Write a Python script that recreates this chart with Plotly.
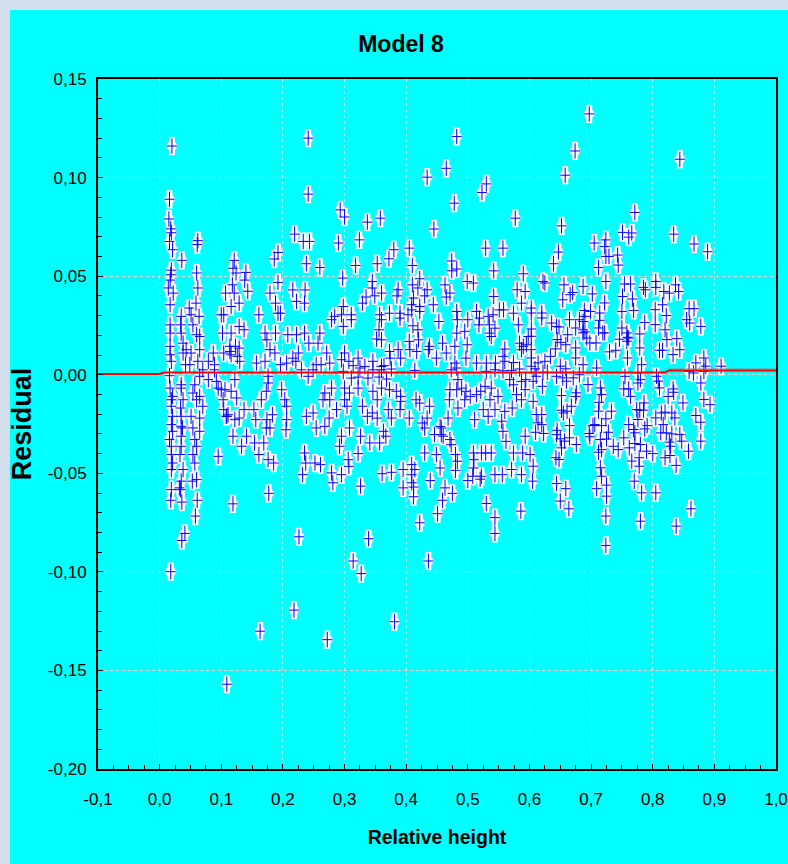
import plotly.graph_objects as go

# ---- residuals by relative height, grouped by region of the plot ----
upper_left = [
    (0.020, 0.116), (0.241, 0.120), (0.241, 0.0916), (0.016, 0.089), (0.015, 0.079), (0.018, 0.074),
    (0.019, 0.072), (0.016, 0.0676), (0.021, 0.0634), (0.062, 0.068), (0.061, 0.066), (0.036, 0.058),
    (0.293, 0.0836), (0.300, 0.080), (0.219, 0.0713), (0.233, 0.0676), (0.243, 0.0676), (0.290, 0.0668),
    (0.192, 0.062), (0.186, 0.0587), (0.238, 0.0563), (0.260, 0.0544), (0.297, 0.049), (0.121, 0.058),
    (0.119, 0.054), (0.124, 0.0516), (0.140, 0.0519), (0.138, 0.048), (0.192, 0.0468), (0.019, 0.053),
    (0.018, 0.0507), (0.017, 0.048), (0.060, 0.0516), (0.014, 0.044), (0.022, 0.0414), (0.062, 0.044),
    (0.118, 0.0456), (0.107, 0.0414), (0.121, 0.0414), (0.143, 0.0423), (0.179, 0.0414), (0.216, 0.043),
    (0.236, 0.043),
]

core_left = [
    (0.017, 0.0355), (0.017, 0.0253), (0.017, 0.0211), (0.017, 0.0144), (0.017, 0.0101), (0.019, 0.0068),
    (0.016, -0.0005), (0.017, -0.0068), (0.021, -0.0110), (0.019, -0.0127), (0.019, -0.0160), (0.021, -0.0211),
    (0.019, -0.0253), (0.021, -0.0287), (0.016, -0.0329), (0.019, -0.0363), (0.019, -0.0405), (0.021, -0.0448),
    (0.019, -0.0481), (0.019, -0.0583),
    (0.035, 0.0296), (0.034, 0.0253), (0.035, 0.0211), (0.038, 0.0160), (0.038, 0.0110), (0.042, 0.0051),
    (0.035, -0.0051), (0.035, -0.0068), (0.038, -0.0127), (0.034, -0.0169), (0.035, -0.0211), (0.035, -0.0262),
    (0.037, -0.0270), (0.035, -0.0312), (0.035, -0.0363), (0.033, -0.0405), (0.038, -0.0481), (0.035, -0.0540),
    (0.034, -0.0583),
    (0.048, 0.0338), (0.059, 0.0363), (0.064, 0.0296), (0.051, 0.0304), (0.054, 0.0253), (0.060, 0.0203),
    (0.065, 0.0194), (0.043, 0.0127), (0.051, 0.0110), (0.065, 0.0127), (0.062, 0.0068), (0.049, 0.0051),
    (0.070, 0.0025), (0.065, -0.0008), (0.079, -0.0025), (0.057, -0.0051), (0.054, -0.0093), (0.065, -0.0110),
    (0.060, -0.0127), (0.070, -0.0160), (0.051, -0.0211), (0.065, -0.0220), (0.054, -0.0270), (0.065, -0.0287),
    (0.057, -0.0329), (0.060, -0.0363), (0.054, -0.0405), (0.057, -0.0448), (0.060, -0.0532), (0.053, -0.0540),
    (0.087, 0.0110), (0.079, 0.0068), (0.089, 0.0051), (0.092, -0.0034), (0.095, -0.0068), (0.100, -0.0076),
    (0.103, -0.0127), (0.104, -0.0177), (0.108, -0.0211), (0.095, -0.0414), (0.100, 0.0304), (0.104, 0.0304),
    (0.102, 0.0211), (0.089, 0.0025), (0.114, 0.0118),
    (0.116, 0.0346), (0.129, 0.0363), (0.129, 0.0245), (0.116, 0.0211), (0.137, 0.0228), (0.114, 0.0144),
    (0.123, 0.0144), (0.129, 0.0135), (0.104, 0.0110), (0.116, 0.0101), (0.126, 0.0093), (0.130, 0.0068),
    (0.122, -0.0025), (0.106, -0.0076), (0.116, -0.0084), (0.125, -0.0118), (0.137, -0.0177), (0.111, -0.0203),
    (0.129, -0.0220), (0.122, -0.0228), (0.119, -0.0312), (0.141, -0.0312), (0.133, -0.0363), (0.109, -0.0211),
]

core_left_mid = [
    (0.161, 0.0304), (0.188, 0.0363), (0.192, 0.0312), (0.196, 0.0312), (0.171, 0.0211), (0.188, 0.0211),
    (0.174, 0.0177), (0.179, 0.0127), (0.187, 0.0110), (0.171, 0.0068), (0.157, 0.0059), (0.196, 0.0051),
    (0.176, -0.0008), (0.176, -0.0042), (0.173, -0.0084), (0.165, -0.0127), (0.198, -0.0076), (0.183, -0.0203),
    (0.174, -0.0228), (0.173, -0.0270), (0.179, -0.0270), (0.153, -0.0177), (0.156, -0.0228), (0.154, -0.0346),
    (0.169, -0.0346), (0.161, -0.0405), (0.176, -0.0431), (0.185, -0.0448), (0.203, -0.0127), (0.206, -0.0160),
    (0.206, -0.0228), (0.205, -0.0279),
    (0.222, 0.0372), (0.235, 0.0363), (0.208, 0.0203), (0.222, 0.0203), (0.235, 0.0211), (0.216, 0.0084),
    (0.225, 0.0110), (0.242, 0.0160), (0.257, 0.0160), (0.260, 0.0211), (0.206, 0.0059), (0.221, 0.0068),
    (0.230, 0.0025), (0.241, -0.0008), (0.249, 0.0025), (0.238, -0.0211), (0.249, -0.0194), (0.254, -0.0270),
    (0.235, -0.0397), (0.237, -0.0448), (0.252, -0.0448), (0.261, -0.0456), (0.232, -0.0507),
    (0.279, 0.0279), (0.295, 0.0304), (0.298, 0.0346), (0.298, 0.0245), (0.284, 0.0296), (0.271, 0.0110),
    (0.276, 0.0059), (0.295, 0.0076), (0.298, 0.0017), (0.279, -0.0068), (0.268, -0.0093), (0.265, -0.0127),
    (0.276, -0.0127), (0.287, -0.0177), (0.275, -0.0220), (0.268, -0.0262), (0.295, -0.0312), (0.292, -0.0363),
    (0.279, -0.0498), (0.295, -0.0507), (0.262, 0.0051), (0.254, 0.0051),
]

lower_left = [
    (0.018, -0.0637), (0.032, -0.0574), (0.036, -0.0646), (0.061, -0.0637), (0.058, -0.0717), (0.041, -0.0805),
    (0.036, -0.0841), (0.018, -0.0999), (0.119, -0.0655), (0.177, -0.0602), (0.226, -0.0822), (0.218, -0.1194),
    (0.163, -0.1301), (0.272, -0.1344), (0.109, -0.157), (0.281, -0.0548),
]

upper_mid = [
    (0.482, 0.1208), (0.465, 0.1047), (0.434, 0.1002), (0.530, 0.0968), (0.523, 0.0924), (0.478, 0.087),
    (0.337, 0.0774), (0.358, 0.0794), (0.577, 0.0794), (0.445, 0.0739), (0.324, 0.0684), (0.405, 0.0642),
    (0.380, 0.0634), (0.529, 0.0642), (0.557, 0.0642), (0.372, 0.0588), (0.318, 0.0554), (0.353, 0.0563),
    (0.410, 0.0554), (0.474, 0.0577), (0.474, 0.0527), (0.482, 0.0536), (0.542, 0.0527), (0.590, 0.0512),
    (0.345, 0.0473), (0.345, 0.044), (0.422, 0.0487), (0.410, 0.0456), (0.419, 0.044), (0.434, 0.0431),
    (0.463, 0.0456), (0.499, 0.0473), (0.509, 0.0465), (0.580, 0.0431), (0.593, 0.0422), (0.360, 0.0414),
    (0.387, 0.0431), (0.385, 0.040), (0.335, 0.0394), (0.349, 0.040), (0.430, 0.040), (0.412, 0.0389),
    (0.471, 0.0414), (0.465, 0.0394), (0.542, 0.0397),
]

core_mid = [
    (0.311, 0.0304), (0.311, 0.0279), (0.329, 0.0363), (0.357, 0.0304), (0.360, 0.0279), (0.373, 0.0312),
    (0.390, 0.0312), (0.390, 0.0287), (0.403, 0.0304), (0.409, 0.0355), (0.409, 0.0329), (0.422, 0.0346),
    (0.422, 0.0321), (0.444, 0.0355), (0.453, 0.0270), (0.482, 0.0321), (0.483, 0.0279), (0.500, 0.0279),
    (0.514, 0.0321), (0.519, 0.0287), (0.518, 0.0253), (0.533, 0.0296), (0.541, 0.0304), (0.551, 0.0329),
    (0.558, 0.0329), (0.574, 0.0312), (0.587, 0.0363), (0.582, 0.0253),
    (0.356, 0.0228), (0.352, 0.0181), (0.360, 0.0177), (0.411, 0.0248), (0.419, 0.0228), (0.420, 0.0177),
    (0.405, 0.0169), (0.438, 0.0144), (0.459, 0.0160), (0.479, 0.0144), (0.482, 0.0211), (0.495, 0.0220),
    (0.499, 0.0152), (0.535, 0.0253), (0.535, 0.0211), (0.538, 0.0194), (0.544, 0.0236), (0.560, 0.0130),
    (0.584, 0.0160), (0.590, 0.0144), (0.598, 0.0194),
    (0.300, 0.0110), (0.307, 0.0068), (0.322, 0.0084), (0.346, 0.0068), (0.360, 0.0042), (0.373, 0.0118),
    (0.374, 0.0084), (0.387, 0.0127), (0.391, 0.0084), (0.406, 0.0127), (0.417, 0.0118), (0.436, 0.0127),
    (0.449, 0.0084), (0.465, 0.0110), (0.479, 0.0059), (0.497, 0.0084), (0.514, 0.0059), (0.530, 0.0059),
    (0.545, 0.0059), (0.557, 0.0093), (0.560, 0.0068), (0.574, 0.0062), (0.587, 0.0127), (0.595, 0.0152),
    (0.314, 0.0046), (0.325, 0.0034), (0.333, 0.0042), (0.346, 0.0025), (0.360, 0.0025), (0.364, 0.0046),
    (0.376, 0.0029), (0.414, 0.0022), (0.473, 0.0025), (0.482, 0.0034), (0.530, 0.0017), (0.544, 0.0025),
    (0.557, 0.0020), (0.571, 0.0022), (0.584, 0.0029),
    (0.311, -0.0017), (0.322, -0.0012), (0.338, -0.0017), (0.356, -0.0012), (0.368, -0.0022), (0.300, -0.0068),
    (0.308, -0.0093), (0.322, -0.0068), (0.346, -0.0084), (0.353, -0.0127), (0.360, -0.0068), (0.373, -0.0076),
    (0.384, -0.0084), (0.391, -0.0110), (0.484, -0.0025), (0.471, -0.0076), (0.470, -0.0127), (0.482, -0.0076),
    (0.490, -0.0068), (0.497, -0.0084), (0.504, -0.0110), (0.514, -0.0101), (0.521, -0.0084), (0.528, -0.0059),
    (0.538, -0.0068), (0.549, -0.0110), (0.568, -0.0025), (0.574, -0.0051), (0.587, -0.0034), (0.594, -0.0025),
    (0.579, -0.0101), (0.593, -0.0076),
    (0.300, -0.0127), (0.304, -0.0160), (0.329, -0.0160), (0.337, -0.0211), (0.345, -0.0194), (0.353, -0.0220),
    (0.371, -0.0177), (0.376, -0.0220), (0.390, -0.0177), (0.391, -0.0135), (0.405, -0.0220), (0.416, -0.0127),
    (0.422, -0.0144), (0.434, -0.0220), (0.438, -0.0160), (0.426, -0.0245), (0.430, -0.0270), (0.455, -0.0262),
    (0.468, -0.0220), (0.484, -0.0169), (0.495, -0.0127), (0.511, -0.0228), (0.525, -0.0177), (0.536, -0.0127),
    (0.533, -0.0211), (0.544, -0.0177), (0.560, -0.0186), (0.555, -0.0236), (0.557, -0.0287), (0.572, -0.0169),
    (0.587, -0.0127),
    (0.308, -0.0270), (0.326, -0.0312), (0.341, -0.0346), (0.357, -0.0346), (0.363, -0.0287), (0.367, -0.0312),
    (0.446, -0.0304), (0.457, -0.0304), (0.457, -0.0270), (0.460, -0.0312), (0.471, -0.0329), (0.473, -0.0355),
    (0.430, -0.0397), (0.449, -0.0405), (0.480, -0.0405), (0.509, -0.0397), (0.510, -0.0431), (0.522, -0.0397),
    (0.529, -0.0397), (0.538, -0.0397), (0.562, -0.0338), (0.574, -0.0397), (0.589, -0.0397), (0.593, -0.0312),
    (0.306, -0.0431), (0.307, -0.0465), (0.322, -0.0400), (0.361, -0.0502), (0.376, -0.0495), (0.395, -0.0481),
    (0.409, -0.0456), (0.414, -0.0481), (0.409, -0.0507), (0.455, -0.0473), (0.480, -0.0485), (0.483, -0.0439),
    (0.509, -0.0473), (0.508, -0.0515), (0.522, -0.0515), (0.544, -0.0507), (0.556, -0.0507), (0.571, -0.0481),
    (0.587, -0.0507),
]

lower_mid = [
    (0.326, -0.0565), (0.395, -0.0574), (0.409, -0.0548), (0.412, -0.057), (0.412, -0.0619), (0.439, -0.0537),
    (0.463, -0.0574), (0.475, -0.0602), (0.459, -0.0637), (0.451, -0.0705), (0.422, -0.0751), (0.339, -0.0832),
    (0.314, -0.0945), (0.327, -0.1009), (0.436, -0.0945), (0.381, -0.1253), (0.530, -0.0653), (0.544, -0.0725),
    (0.544, -0.0805), (0.586, -0.0692), (0.500, -0.0537), (0.520, -0.053),
]

upper_right = [
    (0.697, 0.1323), (0.674, 0.1135), (0.844, 0.1093), (0.658, 0.1012), (0.771, 0.0823), (0.652, 0.0755),
    (0.834, 0.0713), (0.751, 0.0722), (0.766, 0.0719), (0.761, 0.0698), (0.705, 0.0668), (0.724, 0.0684),
    (0.722, 0.065), (0.647, 0.0622), (0.724, 0.060), (0.729, 0.060), (0.743, 0.0607), (0.744, 0.0556),
    (0.639, 0.0563), (0.712, 0.0544), (0.867, 0.0663), (0.889, 0.0624),
    (0.622, 0.0473), (0.625, 0.0465), (0.656, 0.0456), (0.687, 0.0448), (0.724, 0.0473), (0.754, 0.046),
    (0.764, 0.046), (0.785, 0.0443), (0.788, 0.0431), (0.805, 0.0473), (0.805, 0.0443), (0.837, 0.0456),
    (0.842, 0.0422), (0.818, 0.0422), (0.827, 0.0414), (0.670, 0.0417), (0.666, 0.0406), (0.702, 0.041),
    (0.654, 0.038), (0.751, 0.0397), (0.767, 0.0384), (0.722, 0.0364), (0.816, 0.0355), (0.859, 0.0335),
    (0.867, 0.0335), (0.804, 0.033), (0.822, 0.030),
]

core_right = [
    (0.620, 0.0313), (0.620, 0.0288), (0.689, 0.0326), (0.699, 0.0321), (0.690, 0.0296), (0.714, 0.0313),
    (0.714, 0.0276), (0.750, 0.0321), (0.769, 0.0326), (0.603, 0.0338), (0.603, 0.0313), (0.665, 0.0279),
    (0.681, 0.0279), (0.687, 0.027), (0.636, 0.0262), (0.644, 0.0245), (0.648, 0.0242), (0.787, 0.0265),
    (0.804, 0.0254), (0.855, 0.0279), (0.860, 0.0262), (0.878, 0.0245), (0.675, 0.0237), (0.687, 0.0228),
    (0.690, 0.0217), (0.712, 0.0237), (0.719, 0.0212), (0.722, 0.0212), (0.750, 0.0237), (0.758, 0.0212),
    (0.761, 0.0186), (0.779, 0.0207), (0.820, 0.0228), (0.603, 0.0232), (0.603, 0.0195), (0.645, 0.0178),
    (0.651, 0.0164), (0.662, 0.0203), (0.659, 0.0152), (0.687, 0.0212), (0.693, 0.0186), (0.698, 0.0161),
    (0.708, 0.0161), (0.746, 0.018), (0.759, 0.019), (0.758, 0.017), (0.779, 0.0136), (0.823, 0.0178),
    (0.839, 0.0183), (0.844, 0.0127), (0.811, 0.0124), (0.816, 0.0124), (0.833, 0.0102), (0.883, 0.0085),
    (0.870, 0.006), (0.730, 0.0116), (0.740, 0.0124), (0.759, 0.0085), (0.687, 0.0051), (0.675, 0.0136),
    (0.675, 0.0085), (0.642, 0.0131), (0.634, 0.0093), (0.625, 0.0068), (0.614, 0.006), (0.609, 0.003),
    (0.603, 0.0127), (0.603, 0.0085), (0.603, 0.0043), (0.650, 0.0043), (0.659, 0.003), (0.782, 0.0051),
    (0.886, 0.0043), (0.883, 0.0017), (0.911, 0.0043), (0.709, 0.0034), (0.859, 0.0017), (0.866, 0.0009),
    (0.622, 0.0012), (0.629, 0.0012), (0.681, 0.0), (0.671, -0.0016), (0.660, -0.0033), (0.654, -0.0016),
    (0.644, -0.0008), (0.776, 0.0009), (0.780, -0.0025), (0.776, -0.0042), (0.806, -0.0008), (0.809, -0.0033),
    (0.811, -0.0067), (0.755, -0.0008), (0.695, -0.005), (0.878, -0.0042), (0.621, -0.0059), (0.606, -0.0033),
    (0.611, -0.0008),
    (0.833, -0.0072), (0.834, -0.0089), (0.715, -0.0067), (0.717, -0.0101), (0.753, -0.0072), (0.761, -0.0072),
    (0.764, -0.011), (0.652, -0.0106), (0.676, -0.0092), (0.675, -0.011), (0.606, -0.0135), (0.825, -0.011),
    (0.849, -0.0143), (0.883, -0.0126), (0.893, -0.0152), (0.786, -0.0143), (0.713, -0.014), (0.712, -0.0185),
    (0.668, -0.016), (0.661, -0.0185), (0.652, -0.018), (0.655, -0.0194), (0.733, -0.0185), (0.724, -0.0224),
    (0.774, -0.0177), (0.779, -0.018), (0.785, -0.018), (0.814, -0.0194), (0.820, -0.019), (0.831, -0.0194),
    (0.836, -0.0219), (0.870, -0.0207), (0.878, -0.0241), (0.611, -0.0202), (0.620, -0.0202), (0.614, -0.0244),
    (0.620, -0.0253), (0.776, -0.0227), (0.805, -0.0219), (0.706, -0.0253), (0.717, -0.0258), (0.703, -0.0258),
    (0.761, -0.0253), (0.769, -0.0278), (0.791, -0.0258), (0.787, -0.0275), (0.817, -0.0253), (0.665, -0.0258),
    (0.610, -0.0292), (0.623, -0.0298), (0.645, -0.0282), (0.644, -0.0304), (0.697, -0.0298), (0.698, -0.0315),
    (0.728, -0.0292), (0.725, -0.0326), (0.771, -0.0295), (0.813, -0.0295), (0.822, -0.0295), (0.831, -0.030),
    (0.844, -0.0304), (0.847, -0.0337), (0.650, -0.0325), (0.657, -0.0337), (0.665, -0.032), (0.715, -0.0329),
    (0.753, -0.032), (0.827, -0.0342), (0.878, -0.0337), (0.676, -0.0354), (0.736, -0.0363), (0.744, -0.038),
    (0.762, -0.0371), (0.771, -0.0349), (0.780, -0.0354), (0.652, -0.0371), (0.829, -0.0363), (0.790, -0.0388),
    (0.800, -0.040), (0.712, -0.0393), (0.717, -0.038), (0.858, -0.0388), (0.601, -0.0405), (0.778, -0.0421),
    (0.766, -0.0438), (0.820, -0.0421), (0.828, -0.041), (0.643, -0.0421), (0.648, -0.043), (0.778, -0.0464),
    (0.838, -0.046), (0.606, -0.0464),
]

lower_right = [
    (0.715, -0.0472), (0.717, -0.0515), (0.605, -0.054), (0.644, -0.0552), (0.659, -0.0578), (0.650, -0.0641),
    (0.664, -0.068), (0.709, -0.0578), (0.725, -0.056), (0.725, -0.0616), (0.724, -0.0717), (0.724, -0.0866),
    (0.770, -0.054), (0.782, -0.0599), (0.780, -0.0743), (0.805, -0.0599), (0.862, -0.068), (0.838, -0.0768),
]

# smoothed fit through the residuals
fit_height = [-0.1, 0.0, 0.008, 0.820, 0.826, 1.0]
fit_residual = [0.0004, 0.0004, 0.0011, 0.0011, 0.0022, 0.0022]
# grey companion trace along the upper end of the fit
tail_height = [0.826, 1.0]
tail_residual = [0.0029, 0.0029]

x_tick_vals = [-0.1, 0.0, 0.1, 0.2, 0.3, 0.4, 0.5, 0.6, 0.7, 0.8, 0.9, 1.0]
x_tick_text = ["-0,1", "0,0", "0,1", "0,2", "0,3", "0,4", "0,5", "0,6", "0,7", "0,8", "0,9", "1,0"]
y_tick_vals = [0.15, 0.10, 0.05, 0.0, -0.05, -0.10, -0.15, -0.20]
y_tick_text = ["0,15", "0,10", "0,05", "0,00", "-0,05", "-0,10", "-0,15", "-0,20"]

groups = [upper_left, core_left, core_left_mid, lower_left,
          upper_mid, core_mid, lower_mid,
          upper_right, core_right, lower_right]
rel_height = [p[0] for g in groups for p in g]
residual = [p[1] for g in groups for p in g]

FONT = "Liberation Sans, Arial, sans-serif"

fig = go.Figure()

# white oval behind every point: a disc plus a thick vertical white stroke
fig.add_trace(go.Scatter(
    x=rel_height, y=residual, mode="markers", hoverinfo="skip",
    marker=dict(symbol="circle", size=10, color="white",
                line=dict(width=1, color="#d0d0ff")),
))
fig.add_trace(go.Scatter(
    x=rel_height, y=residual, mode="markers", hoverinfo="skip",
    marker=dict(symbol="line-ns", size=13, line=dict(width=6, color="white")),
))
# blue cross: tall vertical stroke + shorter horizontal stroke
fig.add_trace(go.Scatter(
    x=rel_height, y=residual, mode="markers", hoverinfo="skip",
    marker=dict(symbol="line-ns", size=11, line=dict(width=1, color="#0000ff")),
))
fig.add_trace(go.Scatter(
    x=rel_height, y=residual, mode="markers", hoverinfo="skip",
    marker=dict(symbol="line-ew", size=7, line=dict(width=1, color="#0000ff")),
))
fig.add_trace(go.Scatter(
    x=tail_height, y=tail_residual, mode="lines", hoverinfo="skip",
    line=dict(color="#8c8c8c", width=1),
))
fig.add_trace(go.Scatter(
    x=fit_height, y=fit_residual, mode="lines", hoverinfo="skip",
    line=dict(color="#ff0000", width=2),
))

axis_common = dict(
    automargin=False,
    showline=True, linecolor="black", linewidth=2, mirror=True,
    ticks="inside", ticklen=5, tickwidth=1, tickcolor="black",
    showgrid=True, gridcolor="#dcdcdc", gridwidth=1, griddash="dot",
    zeroline=False,
    tickfont=dict(family=FONT, size=17, color="black"),
    tickmode="array",
)

fig.update_layout(
    width=788, height=864, autosize=False,
    margin=dict(l=98, r=12, t=79, b=95, pad=0),
    paper_bgcolor="#00ffff", plot_bgcolor="#00ffff",
    showlegend=False,
    title=dict(text="<b>Model 8</b>", x=401 / 788, xanchor="center",
               y=1 - 44 / 864, yanchor="middle",
               font=dict(family=FONT, size=23, color="black")),
    xaxis=dict(
        axis_common, range=[-0.1, 1.0],
        tickvals=x_tick_vals, ticktext=x_tick_text, ticklabelstandoff=14,
        minor=dict(ticks="inside", dtick=0.025, tick0=0, ticklen=4,
                   tickcolor="black", showgrid=False),
        title=dict(text="<b>Relative height</b>", standoff=22,
                   font=dict(family=FONT, size=19.5, color="black")),
    ),
    yaxis=dict(
        axis_common, range=[-0.2, 0.15],
        tickvals=y_tick_vals, ticktext=y_tick_text, ticklabelstandoff=6,
        minor=dict(ticks="inside", dtick=0.01, tick0=0, ticklen=4,
                   tickcolor="black", showgrid=False),
        title=dict(text="<b>Residual</b>", standoff=8,
                   font=dict(family=FONT, size=27, color="black")),
    ),
    shapes=[
        # pale frame strips along the top and left page edges
        dict(type="rect", xref="paper", yref="paper", layer="above",
             x0=-98 / 678, x1=690 / 678, y0=(769 - 10) / 690, y1=769 / 690,
             fillcolor="#d3deec", line=dict(width=0)),
        dict(type="rect", xref="paper", yref="paper", layer="above",
             x0=-98 / 678, x1=-88 / 678, y0=-95 / 690, y1=769 / 690,
             fillcolor="#d3deec", line=dict(width=0)),
    ],
)

fig.write_html("out.html", config={"responsive": False})
